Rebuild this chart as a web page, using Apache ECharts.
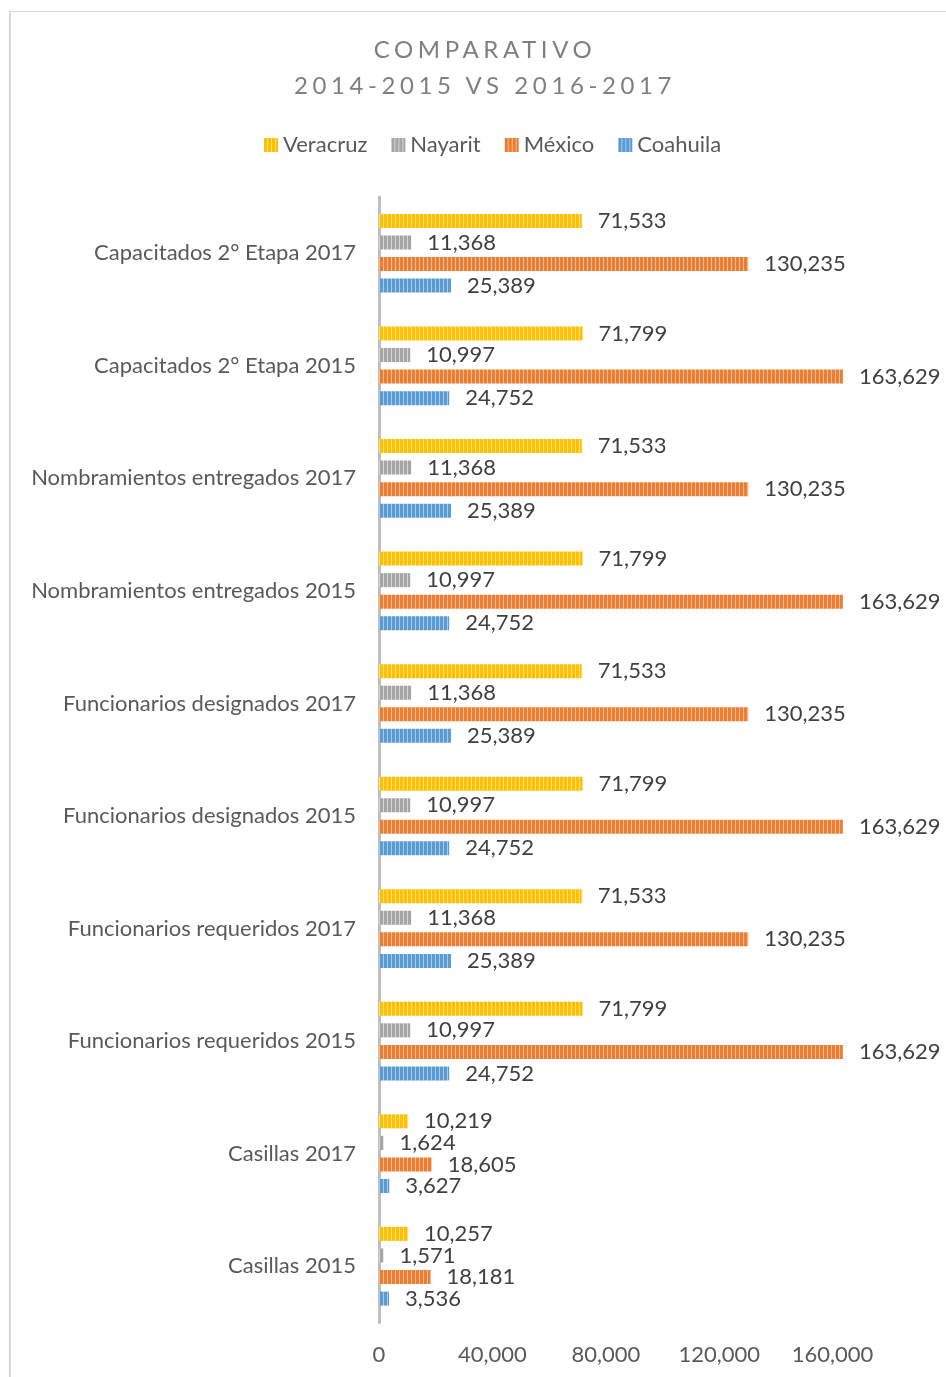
<!DOCTYPE html>
<html>
<head>
<meta charset="utf-8">
<script src="https://cdn.jsdelivr.net/npm/echarts@6/dist/echarts.min.js"></script>
<style>
  html, body { margin: 0; padding: 0; background: #fff; }
  #wrap { position: relative; width: 946px; height: 1377px; }
  #main { width: 946px; height: 1377px; }
  .ttl { position: absolute; left: 0; width: 970px; text-align: center; font-family: Lato, sans-serif;
         font-size: 24px; color: #7f7f7f; letter-spacing: 4.6px; line-height: 24px; }
</style>
</head>
<body>
<div id="wrap">
  <div id="main"></div>
  <div class="ttl" style="top:37px">COMPARATIVO</div>
  <div class="ttl" style="top:73px">2014-2015 VS 2016-2017</div>
</div>
<script>
// categorias de abajo hacia arriba (eje de categorias en ECharts)
const categories = [
  'Casillas 2015', 'Casillas 2017',
  'Funcionarios requeridos 2015', 'Funcionarios requeridos 2017',
  'Funcionarios designados 2015', 'Funcionarios designados 2017',
  'Nombramientos entregados 2015', 'Nombramientos entregados 2017',
  'Capacitados 2° Etapa 2015', 'Capacitados 2° Etapa 2017'
];
const veracruz = [10257, 10219, 71799, 71533, 71799, 71533, 71799, 71533, 71799, 71533];
const nayarit  = [1571, 1624, 10997, 11368, 10997, 11368, 10997, 11368, 10997, 11368];
const mexico   = [18181, 18605, 163629, 130235, 163629, 130235, 163629, 130235, 163629, 130235];
const coahuila = [3536, 3627, 24752, 25389, 24752, 25389, 24752, 25389, 24752, 25389];
const xTicks = [0, 40000, 80000, 120000, 160000];

const FONT = 'Lato';

/**
 * patron de rayas verticales para las barras
 */
function stripes(color, light) {
  const c = document.createElement('canvas');
  c.width = 4; c.height = 4;
  const ctx = c.getContext('2d');
  ctx.fillStyle = color;
  ctx.fillRect(0, 0, 4, 4);
  ctx.fillStyle = light;
  ctx.fillRect(3, 0, 1, 4);
  return { image: c, repeat: 'repeat' };
}

function makeSeries(name, data, color, light) {
  return {
    name: name,
    type: 'bar',
    data: data,
    barWidth: 14,
    barGap: '54%',
    itemStyle: { color: stripes(color, light) },
    label: {
      show: true,
      position: 'right',
      distance: 16,
      color: '#404040',
      fontFamily: FONT,
      fontSize: 22,
      formatter: p => p.value.toLocaleString('en-US')
    }
  };
}

const chart = echarts.init(document.getElementById('main'), null, { renderer: 'canvas' });
const option = {
  animation: false,
  backgroundColor: '#fff',
  graphic: [
    { type: 'line', shape: { x1: 10, y1: 11.5, x2: 946, y2: 11.5 },
      style: { stroke: '#d9d9d9', lineWidth: 1 }, silent: true },
    { type: 'line', shape: { x1: 10, y1: 11, x2: 10, y2: 1377 },
      style: { stroke: '#d9d9d9', lineWidth: 2 }, silent: true }
  ],
  legend: {
    data: ['Veracruz', 'Nayarit', 'México', 'Coahuila'],
    left: 259,
    top: 129,
    itemWidth: 14,
    itemHeight: 14,
    itemGap: 24,
    icon: 'rect',
    textStyle: { fontFamily: FONT, fontSize: 22, color: '#595959' }
  },
  grid: { left: 379, right: -5, top: 197, bottom: 54.5, containLabel: false },
  xAxis: {
    type: 'value',
    min: 0,
    max: 200000,
    interval: 40000,
    axisLine: { show: false },
    axisTick: { show: false },
    splitLine: { show: false },
    axisLabel: {
      showMaxLabel: false,
      margin: 21,
      fontFamily: FONT,
      fontSize: 22,
      color: '#595959',
      formatter: v => xTicks.indexOf(v) >= 0 ? v.toLocaleString('en-US') : ''
    }
  },
  yAxis: {
    type: 'category',
    data: categories,
    axisLine: { show: true, lineStyle: { color: '#bfbfbf', width: 3 } },
    axisTick: { show: false },
    axisLabel: { margin: 23, fontFamily: FONT, fontSize: 22, color: '#595959' }
  },
  series: [
    makeSeries('Veracruz', veracruz, '#FFC000', '#ffe080'),
    makeSeries('Nayarit', nayarit, '#A5A5A5', '#d6d6d6'),
    makeSeries('México', mexico, '#ED7D31', '#f6bc94'),
    makeSeries('Coahuila', coahuila, '#5B9BD5', '#a9cbea')
  ]
};
chart.setOption(option);
</script>
</body>
</html>
